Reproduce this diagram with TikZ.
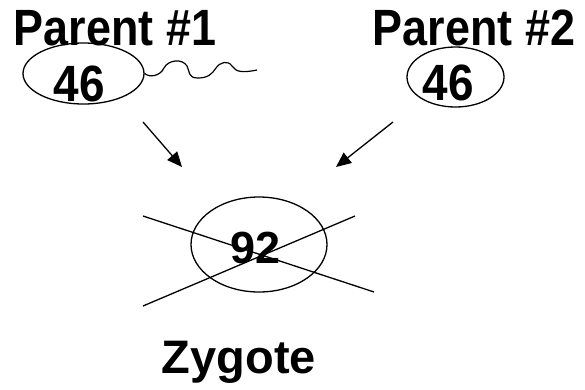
\documentclass[tikz,border=0pt]{standalone}
\usepackage{fontspec}
\setmainfont{Liberation Sans}
\usetikzlibrary{shapes.geometric,arrows.meta}
\begin{document}
\begin{tikzpicture}[x=1pt,y=-1pt,
  label/.style={font=\bfseries\fontsize{51}{51}\selectfont, inner sep=0pt, anchor=base},
  cell/.style={draw, ellipse, line width=1.3pt, inner sep=0pt},
  line/.style={line width=1.3pt},
  arr/.style={line width=1.3pt, -{Triangle[length=15pt,width=13pt]}}]
\useasboundingbox (0,0) rectangle (585,389);

% parents
\node[label] (p1) at (115,45) {\scalebox{0.88}[1]{Parent \#1}};
\node[label] (p2) at (474,45) {\scalebox{0.88}[1]{Parent \#2}};

% gamete cells
\node[cell, minimum width=121pt, minimum height=61pt] (e1) at (83.5,73.5) {};
\node[cell, minimum width=97pt, minimum height=60pt] (e2) at (455.5,77) {};
\node[label] (n1) at (79.5,101) {\scalebox{0.9}[1]{46}};
\node[label] (n2) at (448,100) {\scalebox{0.9}[1]{46}};

% tail of the sperm cell
\draw[line width=1.2pt] (e1.east) .. controls (150,78) and (160,76) .. (164,68)
  .. controls (168,60) and (182,58) .. (187,66)
  .. controls (190,72) and (188,78) .. (198,78)
  .. controls (208,78) and (212,74) .. (216,68)
  .. controls (220,62) and (228,60) .. (232,66)
  .. controls (236,72) and (242,73) .. (257,70);

% arrows towards the zygote
\coordinate (a1s) at (143,122);
\coordinate (a1e) at (182,167);
\coordinate (a2s) at (393,122);
\coordinate (a2e) at (336,167);
\draw[arr] (a1s) -- (a1e);
\draw[arr] (a2s) -- (a2e);

% zygote cell, crossed out
\node[cell, minimum width=136pt, minimum height=95pt] (z) at (259,244.5) {};
\node[label, font=\bfseries\fontsize{45}{45}\selectfont] (n3) at (255.5,263) {92};
\coordinate (c1a) at (143,216);
\coordinate (c1b) at (374,292);
\coordinate (c2a) at (143,306);
\coordinate (c2b) at (355,216);
\draw[line] (c1a) -- (c1b);
\draw[line] (c2a) -- (c2b);

\node[label, font=\bfseries\fontsize{47}{47}\selectfont] (zy) at (239,373) {Zygote};
\end{tikzpicture}
\end{document}
